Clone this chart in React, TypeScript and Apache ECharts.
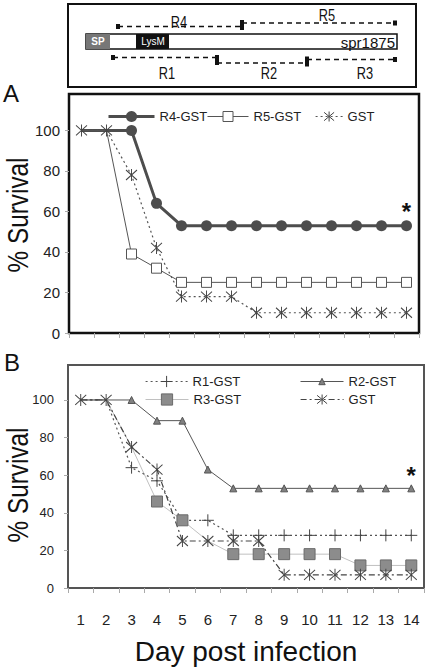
import React, { useEffect, useRef } from 'react';
import * as echarts from 'echarts';

// ---------- data ----------
const days = ['1', '2', '3', '4', '5', '6', '7', '8', '9', '10', '11', '12', '13', '14'];
const yTicks = [0, 20, 40, 60, 80, 100];

// Panel A
const r4A = [100, 100, 100, 64, 53, 53, 53, 53, 53, 53, 53, 53, 53, 53];
const r5A = [100, 100, 39, 32, 25, 25, 25, 25, 25, 25, 25, 25, 25, 25];
const gstA = [100, 100, 78, 42, 18, 18, 18, 10, 10, 10, 10, 10, 10, 10];

// Panel B
const r1B = [100, 100, 64, 57, 36, 36, 28, 28, 28, 28, 28, 28, 28, 28];
const r2B = [100, 100, 100, 89, 89, 63, 53, 53, 53, 53, 53, 53, 53, 53];
const r3B = [100, 100, 75, 46, 36, 25, 18, 18, 18, 18, 18, 12, 12, 12];
const gstB = [100, 100, 75, 63, 25, 25, 25, 25, 7, 7, 7, 7, 7, 7];

// points whose marker is hidden behind other markers in the figure
const hideR4A = [0, 1];
const hideR5A = [0, 1];
const hideR1B = [0, 1, 4];
const hideR2B = [0, 1];
const hideR3B = [0, 1, 2, 5];

const FONT = "'Liberation Sans', Arial, sans-serif";

const STAR = 'path://M-5,-5L5,5M5,-5L-5,5M0,-6L0,6';
const PLUS = 'path://M0,-6L0,6M-6,0L6,0';

function mk(values: number[], hidden: number[]) {
  return values.map((v, i) => (hidden.indexOf(i) >= 0 ? { value: v, symbol: 'none' } : v));
}

function buildOption(): any {
  const xAxisBase = {
    type: 'category',
    data: days,
    boundaryGap: true,
    axisLine: { show: false },
    axisTick: { show: true, length: 5, lineStyle: { color: '#aaa' } },
  };
  const yAxisBase = {
    type: 'value',
    min: 0,
    interval: 20,
    axisLine: { show: false },
    axisTick: { show: true, length: 4, lineStyle: { color: '#aaa' }, customValues: yTicks },
    splitLine: { show: false },
  };
  const fmt = (v: number) => (yTicks.indexOf(v) >= 0 ? String(v) : '');

  const legendBase = {
    show: true,
    padding: 0,
    selectedMode: false,
    orient: 'horizontal',
    textStyle: { fontSize: 13, color: '#222', fontFamily: FONT },
  };

  const starMark = (fontSize: number, dist: number) => ({
    symbol: 'circle',
    symbolSize: 1,
    itemStyle: { color: 'rgba(0,0,0,0)' },
    label: {
      show: true,
      formatter: '*',
      position: 'top',
      distance: dist,
      fontSize,
      fontWeight: 'bold',
      color: '#111',
      fontFamily: FONT,
    },
    data: [{ coord: [days[days.length - 1], 53] }],
  });

  const regionLabel = (text: string, x: number, y: number) => ({
    type: 'text', x, y, scaleX: 0.8,
    style: { text, fill: '#111', fontSize: 16, fontFamily: FONT, align: 'center', verticalAlign: 'middle' },
  });

  return {
    animation: false,
    backgroundColor: '#ffffff',
    textStyle: { fontFamily: FONT },
    grid: [
      { left: 69, top: 94, width: 350, height: 239, show: true, borderColor: '#111', borderWidth: 2.5, backgroundColor: 'rgba(0,0,0,0)' },
      { left: 68, top: 365, width: 356, height: 223, show: true, borderColor: '#555', borderWidth: 2, backgroundColor: 'rgba(0,0,0,0)' },
    ],
    xAxis: [
      { ...xAxisBase, gridIndex: 0, axisLabel: { show: false } },
      {
        ...xAxisBase,
        gridIndex: 1,
        axisLabel: { show: true, fontSize: 15, color: '#222', margin: 24, fontFamily: FONT },
        name: 'Day post infection',
        nameLocation: 'middle',
        nameGap: 49,
        nameTextStyle: { fontSize: 28, color: '#111', fontFamily: FONT },
      },
    ],
    yAxis: [
      { ...yAxisBase, gridIndex: 0, max: 118, axisLabel: { fontSize: 15, color: '#222', margin: 9, formatter: fmt, customValues: yTicks, fontFamily: FONT } },
      { ...yAxisBase, gridIndex: 1, max: 118.6, axisLabel: { fontSize: 13, color: '#222', margin: 14, formatter: fmt, customValues: yTicks, fontFamily: FONT } },
    ],
    legend: [
      { ...legendBase, data: ['R4-GST'], left: 107, top: 110, itemWidth: 46, itemHeight: 14, lineStyle: { width: 3 } },
      { ...legendBase, data: ['R5-GST'], left: 207, top: 110, itemWidth: 41, itemHeight: 12.5, lineStyle: { width: 1 }, itemStyle: { borderWidth: 1 } },
      { ...legendBase, data: ['GST'], left: 315, top: 110, itemWidth: 27, itemHeight: 12.5, lineStyle: { width: 1.2 }, itemStyle: { borderWidth: 1 } },
      { ...legendBase, data: ['R1-GST'], left: 145, top: 375, itemWidth: 42, itemHeight: 14, lineStyle: { width: 1.2 }, itemStyle: { borderWidth: 1 } },
      { ...legendBase, data: ['R2-GST'], left: 300, top: 375, itemWidth: 43, itemHeight: 8, lineStyle: { width: 1 }, itemStyle: { borderWidth: 1 } },
      { ...legendBase, data: ['R3-GST'], left: 145, top: 393, itemWidth: 43, itemHeight: 14, lineStyle: { width: 1 }, itemStyle: { borderWidth: 1 } },
      { ...legendBase, data: ['GST (B)'], left: 300, top: 393, itemWidth: 43, itemHeight: 12.5, lineStyle: { width: 1.2 }, itemStyle: { borderWidth: 1 }, formatter: () => 'GST' },
    ],
    series: [
      {
        name: 'R4-GST', type: 'line', xAxisIndex: 0, yAxisIndex: 0,
        data: mk(r4A, hideR4A), symbol: 'circle', symbolSize: 11,
        itemStyle: { color: '#4d4d4d' }, lineStyle: { color: '#4d4d4d', width: 3 },
        markPoint: starMark(24, 2),
      },
      {
        name: 'R5-GST', type: 'line', xAxisIndex: 0, yAxisIndex: 0,
        data: mk(r5A, hideR5A), symbol: 'rect', symbolSize: 10,
        itemStyle: { color: '#ffffff', borderColor: '#555', borderWidth: 1 }, lineStyle: { color: '#555', width: 1 },
      },
      {
        name: 'GST', type: 'line', xAxisIndex: 0, yAxisIndex: 0,
        data: gstA, symbol: STAR, symbolSize: [11, 12],
        itemStyle: { color: 'rgba(0,0,0,0)', borderColor: '#444', borderWidth: 1 },
        lineStyle: { color: '#555', width: 1.2, type: [2, 3] },
      },
      {
        name: 'R3-GST', type: 'line', xAxisIndex: 1, yAxisIndex: 1,
        data: mk(r3B, hideR3B), symbol: 'rect', symbolSize: 11,
        itemStyle: { color: '#8c8c8c', borderColor: '#6a6a6a', borderWidth: 1 }, lineStyle: { color: '#c0c0c0', width: 1 },
      },
      {
        name: 'R1-GST', type: 'line', xAxisIndex: 1, yAxisIndex: 1,
        data: mk(r1B, hideR1B), symbol: PLUS, symbolSize: 12,
        itemStyle: { color: 'rgba(0,0,0,0)', borderColor: '#444', borderWidth: 1 },
        lineStyle: { color: '#555', width: 1.2, type: [2, 3] },
      },
      {
        name: 'R2-GST', type: 'line', xAxisIndex: 1, yAxisIndex: 1,
        data: mk(r2B, hideR2B), symbol: 'triangle', symbolSize: 7,
        itemStyle: { color: '#808080', borderColor: '#555', borderWidth: 1 }, lineStyle: { color: '#555', width: 1 },
        markPoint: starMark(24, 0),
      },
      {
        name: 'GST (B)', type: 'line', xAxisIndex: 1, yAxisIndex: 1,
        data: gstB, symbol: STAR, symbolSize: [11, 12],
        itemStyle: { color: 'rgba(0,0,0,0)', borderColor: '#444', borderWidth: 1 },
        lineStyle: { color: '#444', width: 1.2, type: [6, 3, 2, 3] },
      },
    ],
    graphic: [
      // protein schematic
      { type: 'rect', shape: { x: 68, y: 4, width: 348, height: 83 }, style: { fill: 'none', stroke: '#111', lineWidth: 2 } },
      { type: 'rect', shape: { x: 86, y: 34, width: 311, height: 15 }, style: { fill: '#fff', stroke: '#111', lineWidth: 1.5 } },
      { type: 'rect', shape: { x: 86, y: 34, width: 24, height: 15 }, style: { fill: '#777' } },
      { type: 'rect', shape: { x: 136, y: 34, width: 33, height: 15 }, style: { fill: '#111' } },
      { type: 'text', x: 98, y: 41.5, style: { text: 'SP', fill: '#fff', fontSize: 10, fontWeight: 'bold', fontFamily: FONT, align: 'center', verticalAlign: 'middle' } },
      { type: 'text', x: 153, y: 41.5, style: { text: 'LysM', fill: '#fff', fontSize: 10, fontFamily: FONT, align: 'center', verticalAlign: 'middle' } },
      { type: 'text', x: 395, y: 42, style: { text: 'spr1875', fill: '#111', fontSize: 15, fontFamily: FONT, align: 'right', verticalAlign: 'middle' } },
      // region lines
      { type: 'line', shape: { x1: 118, y1: 26.5, x2: 242, y2: 26.5 }, style: { stroke: '#111', lineWidth: 1.5, lineDash: [5, 4] } },
      { type: 'line', shape: { x1: 242, y1: 23, x2: 395, y2: 23 }, style: { stroke: '#111', lineWidth: 1.5, lineDash: [5, 4] } },
      { type: 'line', shape: { x1: 113, y1: 57.5, x2: 217, y2: 57.5 }, style: { stroke: '#111', lineWidth: 1.5, lineDash: [5, 4] } },
      { type: 'line', shape: { x1: 217, y1: 63, x2: 307, y2: 63 }, style: { stroke: '#111', lineWidth: 1.5, lineDash: [5, 4] } },
      { type: 'line', shape: { x1: 307, y1: 59.5, x2: 395, y2: 59.5 }, style: { stroke: '#111', lineWidth: 1.5, lineDash: [5, 4] } },
      { type: 'rect', shape: { x: 116, y: 24, width: 4, height: 5 }, style: { fill: '#111' } },
      { type: 'rect', shape: { x: 240, y: 20, width: 4, height: 10 }, style: { fill: '#111' } },
      { type: 'rect', shape: { x: 393, y: 20.5, width: 4, height: 5 }, style: { fill: '#111' } },
      { type: 'rect', shape: { x: 111, y: 55, width: 4, height: 5 }, style: { fill: '#111' } },
      { type: 'rect', shape: { x: 215, y: 55, width: 4, height: 10 }, style: { fill: '#111' } },
      { type: 'rect', shape: { x: 305, y: 56.5, width: 4, height: 10 }, style: { fill: '#111' } },
      { type: 'rect', shape: { x: 393, y: 57, width: 4, height: 5 }, style: { fill: '#111' } },
      regionLabel('R4', 179, 22),
      regionLabel('R5', 327, 15),
      regionLabel('R1', 167, 73),
      regionLabel('R2', 269, 73),
      regionLabel('R3', 365, 73),
      // panel letters
      { type: 'text', x: 11, y: 93, style: { text: 'A', fill: '#111', fontSize: 24, fontFamily: FONT, align: 'center', verticalAlign: 'middle' } },
      { type: 'text', x: 12, y: 362, style: { text: 'B', fill: '#111', fontSize: 24, fontFamily: FONT, align: 'center', verticalAlign: 'middle' } },
      // y axis titles
      { type: 'text', x: 18, y: 215, rotation: Math.PI / 2, scaleX: 0.84, style: { text: '% Survival', fill: '#111', fontSize: 29, fontFamily: FONT, align: 'center', verticalAlign: 'middle' } },
      { type: 'text', x: 18, y: 485, rotation: Math.PI / 2, scaleX: 0.84, style: { text: '% Survival', fill: '#111', fontSize: 29, fontFamily: FONT, align: 'center', verticalAlign: 'middle' } },
    ],
  };
}

export default function App() {
  const ref = useRef<HTMLDivElement>(null);
  useEffect(() => {
    if (!ref.current) return;
    const chart = echarts.init(ref.current, null, { renderer: 'svg' });
    chart.setOption(buildOption());
    return () => chart.dispose();
  }, []);
  return <div ref={ref} style={{ position: 'fixed', left: 0, top: 0, width: 430, height: 671 }} />;
}
